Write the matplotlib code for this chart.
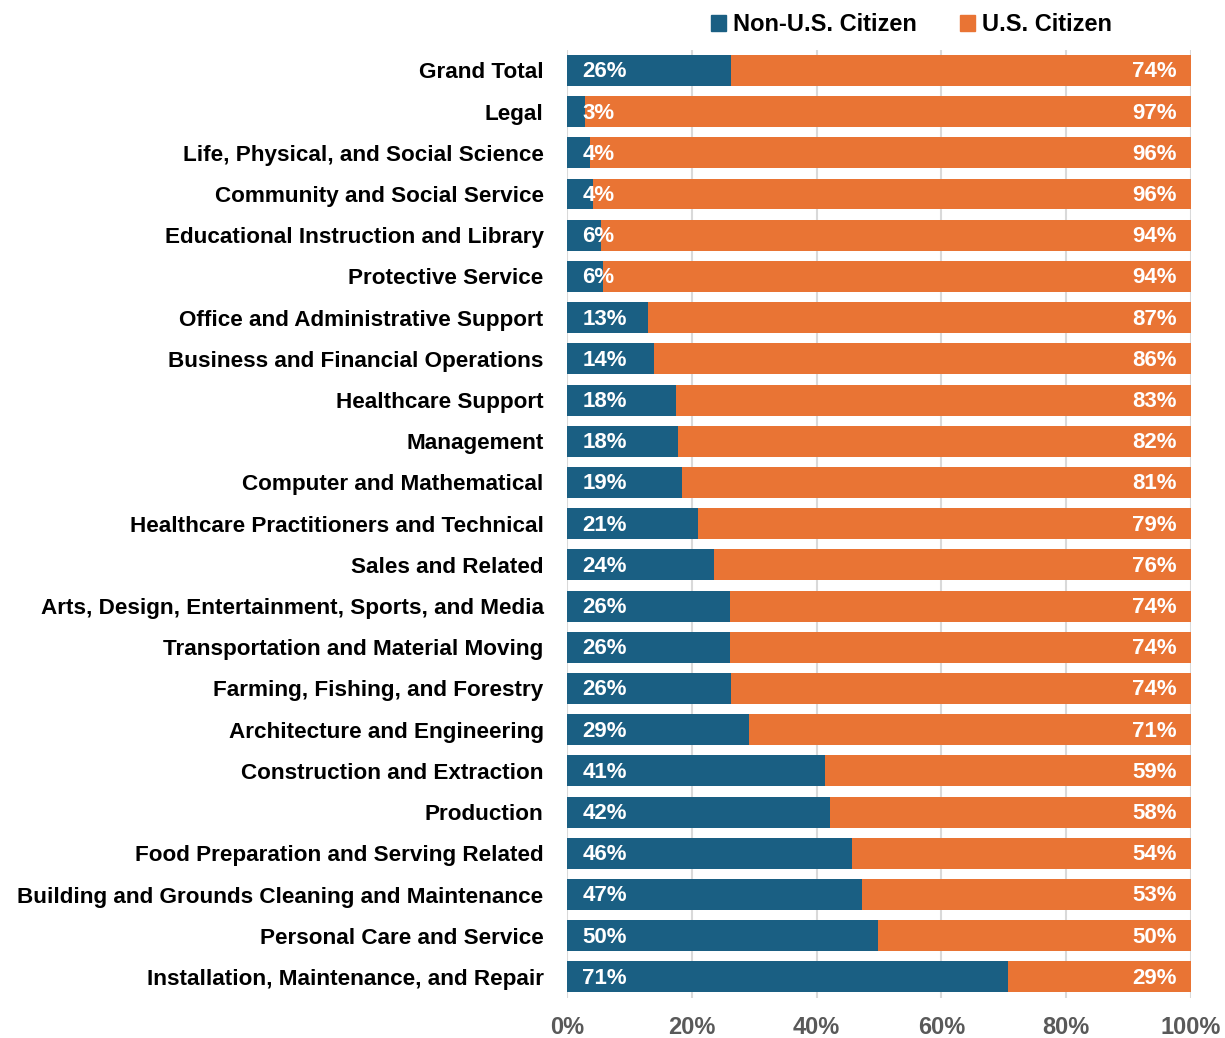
import matplotlib.pyplot as plt
from matplotlib.patches import Patch
import numpy as np

plt.rcParams['font.family'] = ['Liberation Sans', 'DejaVu Sans']

categories = ['Grand Total', 'Legal', 'Life, Physical, and Social Science',
              'Community and Social Service', 'Educational Instruction and Library',
              'Protective Service', 'Office and Administrative Support',
              'Business and Financial Operations', 'Healthcare Support', 'Management',
              'Computer and Mathematical', 'Healthcare Practitioners and Technical',
              'Sales and Related', 'Arts, Design, Entertainment, Sports, and Media',
              'Transportation and Material Moving', 'Farming, Fishing, and Forestry',
              'Architecture and Engineering', 'Construction and Extraction', 'Production',
              'Food Preparation and Serving Related',
              'Building and Grounds Cleaning and Maintenance',
              'Personal Care and Service', 'Installation, Maintenance, and Repair']
non_citizen = [26.3, 2.9, 3.6, 4.2, 5.4, 5.8, 13.0, 13.9, 17.5, 17.8, 18.4, 21.0,
               23.6, 26.1, 26.1, 26.3, 29.2, 41.3, 42.1, 45.7, 47.3, 49.8, 70.7]
non_labels = ['26%', '3%', '4%', '4%', '6%', '6%', '13%', '14%', '18%', '18%', '19%',
              '21%', '24%', '26%', '26%', '26%', '29%', '41%', '42%', '46%', '47%',
              '50%', '71%']
us_labels = ['74%', '97%', '96%', '96%', '94%', '94%', '87%', '86%', '83%', '82%', '81%',
             '79%', '76%', '74%', '74%', '74%', '71%', '59%', '58%', '54%', '53%',
             '50%', '29%']
citizen = [100 - v for v in non_citizen]

blue = '#1a5f83'
orange = '#e97434'

fig = plt.figure(figsize=(12.25, 10.38), dpi=100)
ax = fig.add_axes([0.463, 0.039, 0.509, 0.913])

y = np.arange(len(categories))
ax.barh(y, non_citizen, height=0.75, color=blue, zorder=2)
ax.barh(y, citizen, left=non_citizen, height=0.75, color=orange, zorder=2)

for i in range(len(categories)):
    ax.annotate(non_labels[i], (0, y[i]), xytext=(11, -1), textcoords='offset points',
                ha='left', va='center', color='white', fontsize=16, fontweight='bold', zorder=3)
    ax.annotate(us_labels[i], (100, y[i]), xytext=(-10, -1), textcoords='offset points',
                ha='right', va='center', color='white', fontsize=16, fontweight='bold', zorder=3)

ax.set_xlim(0, 100)
ax.set_ylim(len(categories) - 0.5, -0.5)
ax.set_yticks(y)
ax.set_yticklabels(categories, fontsize=16.2, fontweight='bold')
ax.set_xticks([0, 20, 40, 60, 80, 100])
ax.set_xticklabels(['0%', '20%', '40%', '60%', '80%', '100%'], fontsize=17,
                   fontweight='bold', color='#595959')
ax.tick_params(axis='y', length=0, pad=17)
ax.tick_params(axis='x', length=0, pad=13)
ax.grid(axis='x', color='#d9d9d9', linewidth=1.5, zorder=0)
for s in ax.spines.values():
    s.set_visible(False)

handles = [Patch(color=blue, label='Non-U.S. Citizen'), Patch(color=orange, label='U.S. Citizen')]
fig.legend(handles=handles, loc='upper center', bbox_to_anchor=(0.744, 1.008), ncol=2,
           frameon=False, prop={'size': 17, 'weight': 'bold'},
           handlelength=0.65, handleheight=0.65, handletextpad=0.3, columnspacing=1.8)

plt.savefig('out.png', dpi=100)
